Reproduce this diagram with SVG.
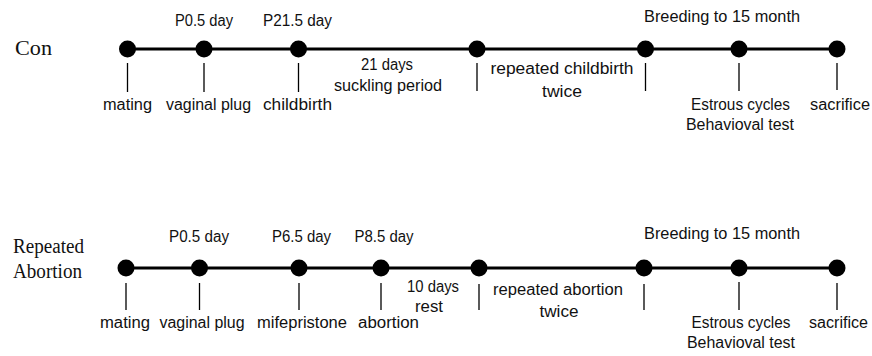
<svg xmlns="http://www.w3.org/2000/svg" width="872" height="356" viewBox="0 0 872 356">
<style>
.bg{fill:#ffffff}
.dot{fill:#000000}
.tick{stroke:#000000;stroke-width:1.3;fill:none}
.line{stroke:#000000;stroke-width:2.8;fill:none}
.t{font-family:"Liberation Sans",Arial,sans-serif;font-size:16px;fill:#111111;text-anchor:middle}
.s{font-family:"Liberation Serif","Times New Roman",serif;font-size:20px;fill:#111111}
</style>
<rect class="bg" x="0" y="0" width="872" height="356"/>

<g id="connectors">
<line class="line" x1="127" y1="49" x2="837" y2="49"/>
<line class="line" x1="126" y1="268" x2="837" y2="268"/>
</g>

<g id="row-con">
<text class="s" x="15" y="55" textLength="37" lengthAdjust="spacingAndGlyphs">Con</text>
</g>
<g id="con-mating">
<circle class="dot" cx="127.5" cy="49" r="8.5"/>
<line class="tick" x1="127.5" y1="63" x2="127.5" y2="92"/>
<text class="t" x="127.5" y="110" textLength="49" lengthAdjust="spacingAndGlyphs">mating</text>
</g>
<g id="con-plug">
<circle class="dot" cx="204" cy="49" r="8.5"/>
<line class="tick" x1="204" y1="63" x2="204" y2="92"/>
<text class="t" x="204" y="26" textLength="58" lengthAdjust="spacingAndGlyphs">P0.5 day</text>
<text class="t" x="208.5" y="110" textLength="85" lengthAdjust="spacingAndGlyphs">vaginal plug</text>
</g>
<g id="con-childbirth">
<circle class="dot" cx="298.5" cy="49" r="8.5"/>
<line class="tick" x1="298.5" y1="63" x2="298.5" y2="92"/>
<text class="t" x="297.5" y="26" textLength="69" lengthAdjust="spacingAndGlyphs">P21.5 day</text>
<text class="t" x="297.5" y="110" textLength="69" lengthAdjust="spacingAndGlyphs">childbirth</text>
</g>
<g id="con-suckling">
<text class="t" x="387" y="70" textLength="52" lengthAdjust="spacingAndGlyphs">21 days</text>
<text class="t" x="388" y="91" textLength="108" lengthAdjust="spacingAndGlyphs">suckling period</text>
</g>
<g id="con-repeat-start">
<circle class="dot" cx="477" cy="49" r="8.5"/>
<line class="tick" x1="477" y1="63" x2="477" y2="91"/>
</g>
<g id="con-repeat">
<text class="t" x="562" y="74" textLength="143" lengthAdjust="spacingAndGlyphs">repeated  childbirth</text>
<text class="t" x="562" y="97" textLength="40" lengthAdjust="spacingAndGlyphs">twice</text>
</g>
<g id="con-breeding">
<circle class="dot" cx="645.5" cy="49" r="8.5"/>
<line class="tick" x1="645.5" y1="63" x2="645.5" y2="91"/>
<text class="t" x="722" y="22" textLength="156" lengthAdjust="spacingAndGlyphs">Breeding to 15 month</text>
</g>
<g id="con-tests">
<circle class="dot" cx="739" cy="49" r="8.5"/>
<line class="tick" x1="739" y1="63" x2="739" y2="91"/>
<text class="t" x="740.5" y="110" textLength="99" lengthAdjust="spacingAndGlyphs">Estrous cycles</text>
<text class="t" x="740" y="130" textLength="108" lengthAdjust="spacingAndGlyphs">Behavioval test</text>
</g>
<g id="con-sacrifice">
<circle class="dot" cx="837" cy="49" r="8.5"/>
<line class="tick" x1="837" y1="63" x2="837" y2="90"/>
<text class="t" x="840" y="110" textLength="60" lengthAdjust="spacingAndGlyphs">sacrifice</text>
</g>

<g id="row-abortion">
<text class="s" x="13" y="253" textLength="71" lengthAdjust="spacingAndGlyphs">Repeated</text>
<text class="s" x="13" y="278" textLength="69" lengthAdjust="spacingAndGlyphs">Abortion</text>
</g>
<g id="ab-mating">
<circle class="dot" cx="126" cy="268" r="8.5"/>
<line class="tick" x1="126" y1="283" x2="126" y2="310"/>
<text class="t" x="125" y="328" textLength="50" lengthAdjust="spacingAndGlyphs">mating</text>
</g>
<g id="ab-plug">
<circle class="dot" cx="199.5" cy="268" r="8.5"/>
<line class="tick" x1="199.5" y1="283" x2="199.5" y2="310"/>
<text class="t" x="199" y="242" textLength="60" lengthAdjust="spacingAndGlyphs">P0.5 day</text>
<text class="t" x="202" y="328" textLength="85" lengthAdjust="spacingAndGlyphs">vaginal plug</text>
</g>
<g id="ab-mifepristone">
<circle class="dot" cx="299" cy="268" r="8.5"/>
<line class="tick" x1="299" y1="283" x2="299" y2="310"/>
<text class="t" x="301.5" y="242" textLength="59" lengthAdjust="spacingAndGlyphs">P6.5 day</text>
<text class="t" x="302" y="328" textLength="90" lengthAdjust="spacingAndGlyphs">mifepristone</text>
</g>
<g id="ab-abortion">
<circle class="dot" cx="381" cy="268" r="8.5"/>
<line class="tick" x1="381" y1="283" x2="381" y2="310"/>
<text class="t" x="384" y="242" textLength="59" lengthAdjust="spacingAndGlyphs">P8.5 day</text>
<text class="t" x="388.5" y="328" textLength="61" lengthAdjust="spacingAndGlyphs">abortion</text>
</g>
<g id="ab-rest">
<text class="t" x="433" y="292" textLength="52" lengthAdjust="spacingAndGlyphs">10 days</text>
<text class="t" x="429" y="312" textLength="28" lengthAdjust="spacingAndGlyphs">rest</text>
</g>
<g id="ab-repeat-start">
<circle class="dot" cx="479" cy="268" r="8.5"/>
<line class="tick" x1="479" y1="284" x2="479" y2="310"/>
</g>
<g id="ab-repeat">
<text class="t" x="558" y="295" textLength="130" lengthAdjust="spacingAndGlyphs">repeated abortion</text>
<text class="t" x="559" y="317" textLength="39" lengthAdjust="spacingAndGlyphs">twice</text>
</g>
<g id="ab-breeding">
<circle class="dot" cx="644" cy="268" r="8.5"/>
<line class="tick" x1="644" y1="284" x2="644" y2="310"/>
<text class="t" x="722" y="239" textLength="156" lengthAdjust="spacingAndGlyphs">Breeding to 15 month</text>
</g>
<g id="ab-tests">
<circle class="dot" cx="739" cy="268" r="8.5"/>
<line class="tick" x1="739" y1="282" x2="739" y2="310"/>
<text class="t" x="741" y="328" textLength="99" lengthAdjust="spacingAndGlyphs">Estrous cycles</text>
<text class="t" x="741" y="348" textLength="108" lengthAdjust="spacingAndGlyphs">Behavioval test</text>
</g>
<g id="ab-sacrifice">
<circle class="dot" cx="837" cy="268" r="8.5"/>
<line class="tick" x1="837" y1="283" x2="837" y2="310"/>
<text class="t" x="838.5" y="328" textLength="59" lengthAdjust="spacingAndGlyphs">sacrifice</text>
</g>
</svg>
